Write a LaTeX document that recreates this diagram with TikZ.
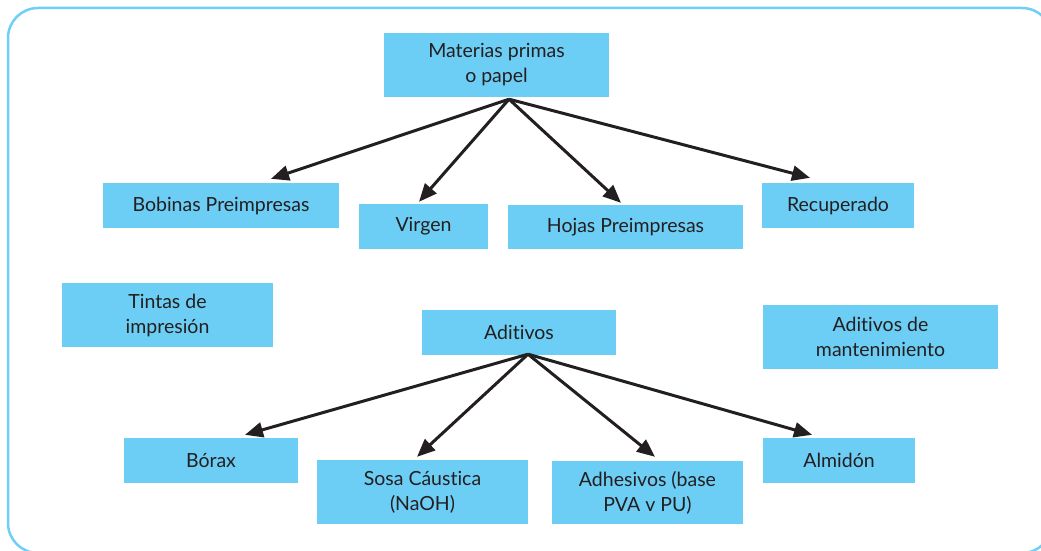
\documentclass[tikz,border=0pt]{standalone}
\usepackage{fontspec}
\setmainfont{Lato}[Ligatures={NoCommon,NoRare}]
\usetikzlibrary{arrows.meta}
\definecolor{boxblue}{HTML}{6DCEF5}
\definecolor{frameblue}{HTML}{6FCFF5}
\definecolor{ink}{HTML}{231F20}
\begin{document}
\begin{tikzpicture}[x=1pt,y=-1pt,
  box/.style={fill=boxblue, draw=none, inner sep=0pt, align=center, text=ink,
    font=\fontsize{19.5}{25}\selectfont},
  arr/.style={draw=ink, line width=3pt, -{Triangle[length=18pt,width=15pt]}}]
\useasboundingbox (0,0) rectangle (1041,551);
\draw[frameblue, line width=2.5pt, rounded corners=30pt] (8,8) rectangle (1052,553);

\node[box, minimum width=225pt, minimum height=64pt] (mat) at (496.5,65) {Materias primas\\o papel};
\node[box, minimum width=236pt, minimum height=45pt] (bob) at (221,205.5) {Bobinas Preimpresas};
\node[box, minimum width=129pt, minimum height=45pt] (vir) at (423.5,226.5) {Virgen};
\node[box, minimum width=235pt, minimum height=44pt] (hoj) at (625.5,227) {Hojas Preimpresas};
\node[box, minimum width=152pt, minimum height=45pt] (rec) at (838,205.5) {Recuperado};
\node[box, minimum width=211pt, minimum height=64pt] (tin) at (167.5,315) {Tintas de\\impresión};
\node[box, minimum width=194pt, minimum height=45pt] (adi) at (519,332.5) {Aditivos};
\node[box, minimum width=235pt, minimum height=64pt] (man) at (880.5,337) {Aditivos de\\mantenimiento};
\node[box, minimum width=174pt, minimum height=45pt] (bor) at (211,460.5) {Bórax};
\node[box, minimum width=211pt, minimum height=64pt] (sos) at (422.5,492) {Sosa Cáustica\\(NaOH)};
\node[box, minimum width=191pt, minimum height=63pt] (adh) at (647.5,492.5) {Adhesivos (base\\PVA v PU)};
\node[box, minimum width=152pt, minimum height=45pt] (alm) at (839,460.5) {Almidón};

\coordinate (ms) at ([shift={(12.5,2)}]mat.south);
\draw[arr] (ms) -- ([shift={(50,-4)}]bob.north);
\draw[arr] (ms) -- ([shift={(-4.5,-2)}]vir.north);
\draw[arr] (ms) -- ([shift={(-4.5,-2)}]hoj.north);
\draw[arr] (ms) -- ([shift={(-28,-5)}]rec.north);

\coordinate (as) at ([shift={(9,-1)}]adi.south);
\draw[arr] (as) -- ([shift={(34,-3)}]bor.north);
\draw[arr] (as) -- ([shift={(-5.5,-3)}]sos.north);
\draw[arr] (as) -- ([shift={(7.5,-4)}]adh.north);
\draw[arr] (as) -- ([shift={(-27,-3)}]alm.north);
\end{tikzpicture}
\end{document}
